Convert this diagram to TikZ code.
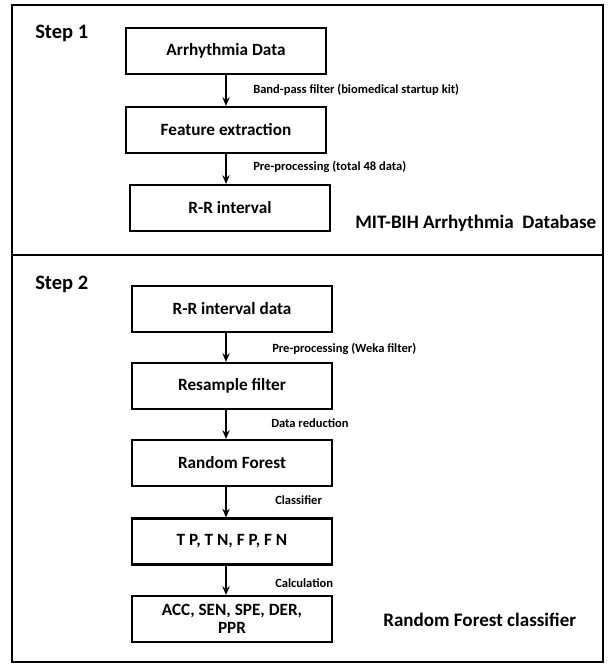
\documentclass[tikz,border=0pt]{standalone}
\usepackage{fontspec}
\setmainfont{Carlito}
\usetikzlibrary{arrows.meta}
\tikzset{
  panel/.style={draw=black, line width=1.6pt},
  box/.style={draw=black, line width=1.6pt, rectangle, minimum width=150pt, minimum height=34.5pt, inner sep=1pt, align=center, font=\bfseries\fontsize{12.9}{14}\selectfont},
  lbl/.style={anchor=west, inner sep=0pt, font=\bfseries\fontsize{9.4}{11}\selectfont},
  steplbl/.style={anchor=west, inner sep=0pt, font=\bfseries\fontsize{15.4}{17}\selectfont},
  side/.style={anchor=west, inner sep=0pt, font=\bfseries\fontsize{14.3}{16}\selectfont},
  arr/.style={-{Stealth[length=6.5pt,width=5.5pt]}, line width=1.3pt}
}
\begin{document}
\begin{tikzpicture}[x=0.75pt,y=-0.75pt]
\useasboundingbox (0,0) rectangle (608,664);
% panels
\draw[panel] (12,5) rectangle (603,255);
\draw[panel] (12,255) rectangle (603,662);
% step 1
\node[steplbl] (s1) at (35,33) {Step 1};
\node[box] (a1) at (226,51) {Arrhythmia Data};
\node[box] (a2) at (226,130) {Feature extraction};
\node[box] (a3) at (230,208) {R-R interval};
\draw[arr] (a1.south) -- (a2.north);
\draw[arr] (a2.south) -- (a2.south |- a3.north);
\node[lbl] (l1) at (253,90) {Band-pass filter (biomedical startup kit)};
\node[lbl] (l2) at (253,167) {Pre-processing (total 48 data)};
\node[side] (db) at (355,223) {MIT-BIH Arrhythmia~~Database};
% step 2
\node[steplbl] (s2) at (35,284) {Step 2};
\node[box] (b1) at (232,309) {R-R interval data};
\node[box] (b2) at (232,386) {Resample filter};
\node[box] (b3) at (232,463) {Random Forest};
\node[box] (b4) at (232,541.5) {T P, T N, F P, F N};
\node[box] (b5) at (232,619) {ACC, SEN, SPE, DER,\\PPR};
\draw[arr] ([xshift=-4.5pt]b1.south) -- ([xshift=-4.5pt]b2.north);
\draw[arr] ([xshift=-4.5pt]b2.south) -- ([xshift=-4.5pt]b3.north);
\draw[arr] ([xshift=-4.5pt]b3.south) -- ([xshift=-4.5pt]b4.north);
\draw[arr] ([xshift=-4.5pt]b4.south) -- ([xshift=-4.5pt]b5.north);
\node[lbl] (m1) at (272,349) {Pre-processing (Weka filter)};
\node[lbl] (m2) at (271,423) {Data reduction};
\node[lbl] (m3) at (275,500) {Classifier};
\node[lbl] (m4) at (275,583) {Calculation};
\node[side] (rf) at (383,620) {Random Forest classifier};
\end{tikzpicture}
\end{document}
